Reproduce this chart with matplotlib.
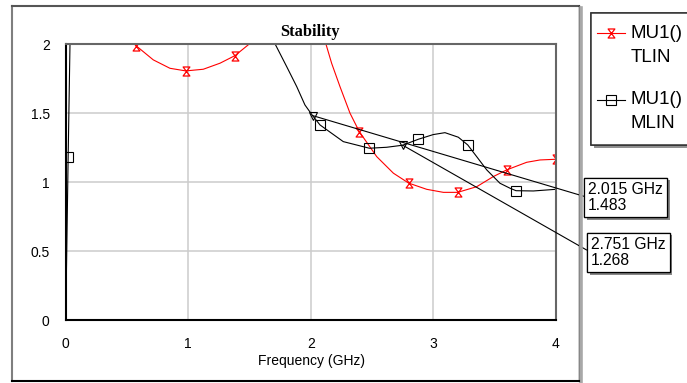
import matplotlib
matplotlib.use("Agg")
import matplotlib.pyplot as plt
import matplotlib.patheffects as pe
from matplotlib.lines import Line2D
from matplotlib.patches import Rectangle
from matplotlib.path import Path

plt.rcParams["font.family"] = ["Liberation Sans", "DejaVu Sans"]

# MU1() TLIN trace (>2 is off-scale)
tlin_freq = [0.45, 0.574, 0.715, 0.851, 0.98, 1.123, 1.26, 1.382, 1.49, 1.6,
             2.0, 2.125, 2.171, 2.239, 2.321, 2.397, 2.539, 2.675, 2.8, 2.947,
             3.083, 3.2, 3.355, 3.49, 3.6, 3.763, 3.872, 4.0]
tlin_mu = [2.15, 1.99, 1.887, 1.826, 1.807, 1.819, 1.863, 1.918, 1.996, 2.1,
           2.4, 2.0, 1.862, 1.693, 1.5, 1.366, 1.185, 1.065, 0.993, 0.948,
           0.926, 0.926, 0.967, 1.04, 1.089, 1.144, 1.161, 1.166]
tlin_mark_freq = [0.574, 0.98, 1.382, 2.397, 2.8, 3.2, 3.6, 4.0]
tlin_mark_mu = [1.99, 1.807, 1.918, 1.366, 0.993, 0.926, 1.089, 1.166]

# MU1() MLIN trace
mlin_freq = [0.0, 0.02, 0.035, 0.1, 1.5, 1.709, 1.804, 1.886, 1.953, 2.015, 2.076,
             2.266, 2.479, 2.62, 2.751, 2.878, 3.0, 3.096, 3.205, 3.282, 3.355,
             3.437, 3.545, 3.627, 3.676, 3.817, 4.0]
mlin_mu = [0.0, 1.18, 2.0, 2.6, 2.6, 2.003, 1.838, 1.693, 1.56, 1.483, 1.415,
           1.294, 1.246, 1.253, 1.268, 1.311, 1.345, 1.359, 1.326, 1.27, 1.185,
           1.089, 0.992, 0.956, 0.938, 0.936, 0.948]
mlin_mark_freq = [0.02, 2.076, 2.479, 2.878, 3.282, 3.676]
mlin_mark_mu = [1.18, 1.415, 1.246, 1.311, 1.27, 0.938]

# readout markers
m_freq = [2.015, 2.751]
m_val = [1.483, 1.268]

x_ticks = [0, 1, 2, 3, 4]
y_ticks = [0, 0.5, 1, 1.5, 2]
y_tick_labels = ["0", "0.5", "1", "1.5", "2"]

W, H = 687, 383


def fx(x):
    return x / W


def fy(y):
    return 1 - y / H


hourglass = Path([(-0.75, 1), (0.75, 1), (-0.75, -1), (0.75, -1), (-0.75, 1)],
                 [Path.MOVETO, Path.LINETO, Path.LINETO, Path.LINETO, Path.CLOSEPOLY])

fig = plt.figure(figsize=(W / 100, H / 100), dpi=100)

# outer frame
frame_kw = dict(transform=fig.transFigure)
fig.add_artist(Line2D([fx(12), fx(12)], [fy(5.5), fy(381)], color="#7f7f7f", lw=1.5, **frame_kw))
fig.add_artist(Line2D([fx(12), fx(578.5)], [fy(5.5), fy(5.5)], color="#555555", lw=1.5, **frame_kw))
fig.add_artist(Line2D([fx(578.5), fx(578.5)], [fy(5.5), fy(381)], color="black", lw=1.0, **frame_kw))
fig.add_artist(Line2D([fx(581), fx(581)], [fy(8), fy(383)], color="#a8a8a8", lw=2.6, **frame_kw))
fig.add_artist(Line2D([fx(12), fx(578.5)], [fy(381), fy(381)], color="black", lw=1.5, **frame_kw))

ax = fig.add_axes([fx(65.7), fy(320), fx(555.7 - 65.7), (320 - 44.3) / H])
ax.set_xlim(0, 4)
ax.set_ylim(0, 2)
ax.grid(True, color="#cccccc", lw=1.1)
ax.set_axisbelow(True)
ax.set_xticks(x_ticks)
ax.set_yticks(y_ticks)
ax.set_yticklabels(y_tick_labels)
ax.tick_params(length=0, labelsize=10, colors="black")
ax.tick_params(axis="y", pad=11.5)
ax.tick_params(axis="x", pad=12)
for side in ("left", "bottom"):
    ax.spines[side].set_color("black")
    ax.spines[side].set_linewidth(1.5)
for side in ("top", "right"):
    ax.spines[side].set_color("#666666")
    ax.spines[side].set_linewidth(1.5)

ax.plot(tlin_freq, tlin_mu, color="red", lw=0.8)
ax.plot(tlin_mark_freq, tlin_mark_mu, ls="none", marker=hourglass, ms=6.5,
        mfc="none", mec="red", mew=0.9)
ax.plot(mlin_freq, mlin_mu, color="black", lw=0.8)
ax.plot(mlin_mark_freq, mlin_mark_mu, ls="none", marker="s", ms=6.5,
        mfc="none", mec="black", mew=0.8)
ax.plot(m_freq, m_val, ls="none", marker="v", ms=5.5, mfc="none", mec="black", mew=0.8)

box_pos = [(588, 197.5), (591, 252.5)]
for f, v, (bx, by) in zip(m_freq, m_val, box_pos):
    ann = ax.annotate(f"{f:.3f} GHz\n{v:.3f}", xy=(f, v), xycoords="data",
                      xytext=(fx(bx), fy(by)), textcoords="figure fraction",
                      ha="left", va="center", fontsize=11.3, linespacing=1.15,
                      bbox=dict(boxstyle="square,pad=0.25", fc="white", ec="black", lw=0.9),
                      arrowprops=dict(arrowstyle="-", color="black", lw=0.8,
                                      relpos=(0, 0.5), shrinkA=0, shrinkB=0))
    ann.get_bbox_patch().set_path_effects([
        pe.withSimplePatchShadow(offset=(2, -2), shadow_rgbFace="#888888", alpha=1.0),
        pe.Normal()])

fig.text(fx(310), fy(32), "Stability", ha="center", va="center",
         family=["Liberation Serif", "DejaVu Serif"], weight="bold", fontsize=11.8)
fig.text(fx(311), fy(361), "Frequency (GHz)", ha="center", va="center", fontsize=10)

# legend box
leg = Rectangle((fx(590.5), fy(145)), fx(120), (145 - 13) / H, transform=fig.transFigure,
                fc="white", ec="#333333", lw=1.1)
leg.set_path_effects([pe.withSimplePatchShadow(offset=(2.5, -2.5), shadow_rgbFace="#909090",
                                               alpha=1.0), pe.Normal()])
fig.add_artist(leg)
fig.add_artist(Line2D([fx(597), fx(625)], [fy(32.7), fy(32.7)], color="red", lw=0.8,
                      transform=fig.transFigure))
fig.add_artist(Line2D([fx(611)], [fy(32.7)], ls="none", marker=hourglass, ms=6.5,
                      mfc="none", mec="red", mew=0.9, transform=fig.transFigure))
fig.add_artist(Line2D([fx(597), fx(625)], [fy(100), fy(100)], color="black", lw=0.8,
                      transform=fig.transFigure))
fig.add_artist(Line2D([fx(611)], [fy(100)], ls="none", marker="s", ms=6.5,
                      mfc="none", mec="black", mew=0.8, transform=fig.transFigure))
for label, y in [("MU1()", 33), ("TLIN", 57), ("MU1()", 100), ("MLIN", 123)]:
    fig.text(fx(631), fy(y), label, ha="left", va="center", fontsize=13.5)

fig.savefig("out.png", dpi=100)
